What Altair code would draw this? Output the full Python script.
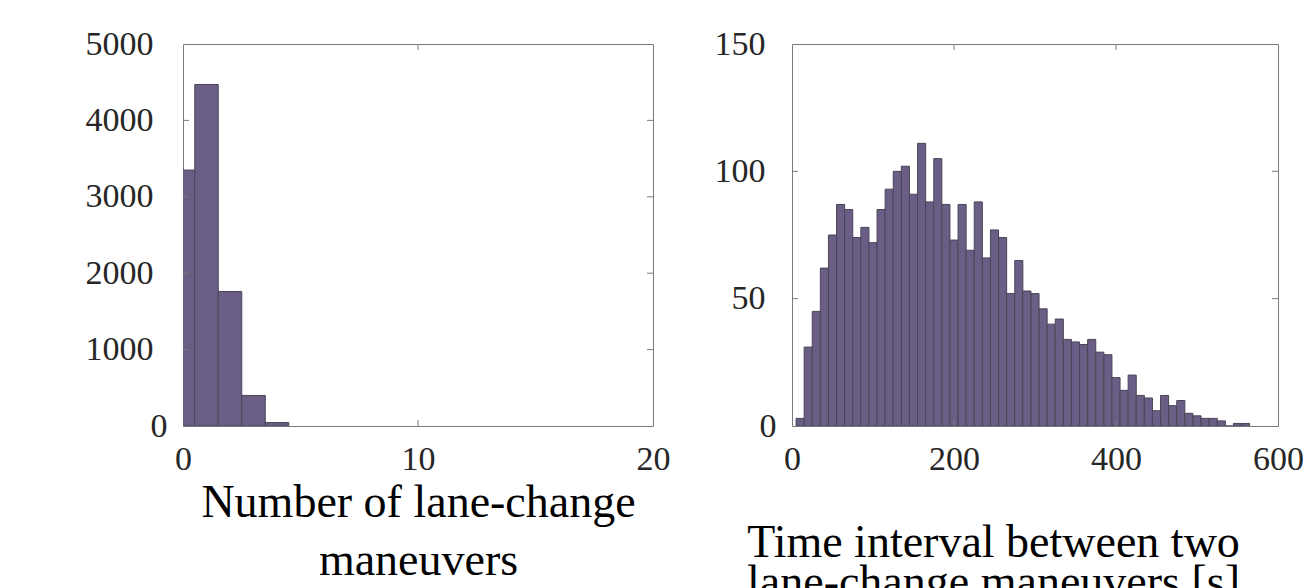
import altair as alt
import pandas as pd

# ---- data ----
left_centers = [0, 1, 2, 3, 4]
left_counts = [3350, 4470, 1760, 400, 45]
left_xticks = [0, 10, 20]
left_yticks = [0, 1000, 2000, 3000, 4000, 5000]

right_first_edge = 5
right_bin_width = 10
right_counts = [3, 31, 45, 62, 75, 87, 85, 74, 78, 72,
                85, 93, 100, 102, 91, 111, 88, 105, 87, 73,
                87, 69, 88, 66, 77, 74, 52, 65, 53, 52,
                46, 40, 42, 34, 33, 32, 34, 29, 28, 19,
                14, 20, 12, 11, 6, 12, 8, 10, 5, 4,
                3, 3, 2, 0, 1, 1]
right_xticks = [0, 200, 400, 600]
right_yticks = [0, 50, 100, 150]

left_title = ["Number of lane-change", "maneuvers"]
right_title = ["Time interval between two", "lane-change maneuvers [s]"]

FILL = "#6a5e86"
STROKE = "#4b4458"
FRAME = "#7a7a7a"
FONT = "Liberation Serif"

left_df = pd.DataFrame({
    "start": [c - 0.5 for c in left_centers],
    "end": [c + 0.5 for c in left_centers],
    "count": left_counts,
    "base": [0] * len(left_counts),
})
right_starts = [right_first_edge + right_bin_width * i for i in range(len(right_counts))]
right_df = pd.DataFrame({
    "start": right_starts,
    "end": [s + right_bin_width for s in right_starts],
    "count": right_counts,
    "base": [0] * len(right_counts),
})


def panel(df, xdom, ydom, xticks, yticks, W, H, title, title_pad, ylab_pad,
          title_x=None, line_h=58):
    xs = alt.Scale(domain=xdom, nice=False, zero=False)
    ys = alt.Scale(domain=ydom, nice=False, zero=False)
    xaxis_kw = dict(values=xticks, title=title, titlePadding=title_pad,
                    labelPadding=16, format="d", labelFlush=False,
                    titleLineHeight=line_h)
    if title_x is not None:
        xaxis_kw["titleX"] = title_x
    bars = alt.Chart(df).mark_rect(fill=FILL, stroke=STROKE, strokeWidth=1,
                                   clip=True).encode(
        x=alt.X("start:Q", scale=xs, axis=alt.Axis(**xaxis_kw)),
        x2="end:Q",
        y=alt.Y("count:Q", scale=ys,
                axis=alt.Axis(values=yticks, title=None,
                              labelPadding={"condition": {"test": "datum.value === 0",
                                                          "value": 16},
                                            "value": ylab_pad},
                              format="d", labelFlush=False)),
        y2="base:Q",
    )
    inner_y = pd.DataFrame({"count": yticks[1:-1]})
    inner_x = pd.DataFrame({"start": xticks[1:-1]})
    tl = alt.Chart(inner_y).mark_rule(color=FRAME).encode(
        y=alt.Y("count:Q", scale=ys), x=alt.value(0), x2=alt.value(6))
    tr = alt.Chart(inner_y).mark_rule(color=FRAME).encode(
        y=alt.Y("count:Q", scale=ys), x=alt.value(W - 6), x2=alt.value(W))
    tb = alt.Chart(inner_x).mark_rule(color=FRAME).encode(
        x=alt.X("start:Q", scale=xs), y=alt.value(H - 6), y2=alt.value(H))
    tt = alt.Chart(inner_x).mark_rule(color=FRAME).encode(
        x=alt.X("start:Q", scale=xs), y=alt.value(0), y2=alt.value(6))
    return alt.layer(bars, tl, tr, tb, tt).properties(width=W, height=H)


left = panel(left_df, [0, 20], [0, 5000], left_xticks, left_yticks,
             470, 382, left_title, 4, 30)
right = panel(right_df, [0, 600], [0, 150], right_xticks, right_yticks,
              486, 382, right_title, 44, 27, title_x=201, line_h=40)

chart = alt.hconcat(left, right, spacing=139, bounds="flush").properties(
    padding={"left": 84, "top": 26, "right": 0, "bottom": 0}
).configure_view(
    stroke=FRAME, strokeWidth=1
).configure_axis(
    labelFont=FONT, labelFontSize=34, labelColor="#262626",
    titleFont=FONT, titleFontSize=46, titleFontWeight="normal",
    titleColor="#000000",
    ticks=False, domain=False, grid=False,
)

chart.save("out.html", embed_options={"renderer": "svg", "actions": False})
